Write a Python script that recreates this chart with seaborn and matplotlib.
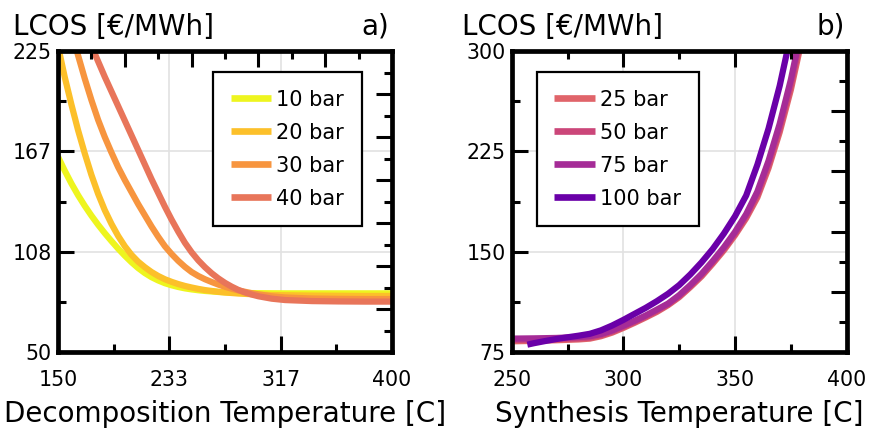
import numpy as np
import pandas as pd
import matplotlib
matplotlib.use("Agg")
import matplotlib.pyplot as plt
import seaborn as sns

# ---------------- data: panel a (decomposition) ----------------
decomp_T = [150, 155, 160, 165, 170, 175, 180, 185, 190, 195, 200, 205, 210,
            215, 220, 225, 230, 235, 240, 245, 250, 255, 260, 265, 270, 275,
            280, 285, 290, 295, 300, 310, 320, 340, 360, 380, 400]
lcos_10bar = [163.5, 155.5, 148.0, 141.2, 135.0, 129.3, 124.0, 119.1, 114.5,
              110.1, 106.0, 102.2, 98.8, 95.9, 93.5, 91.6, 90.0, 88.8, 87.8,
              87.0, 86.4, 85.9, 85.5, 85.2, 84.9, 84.7, 84.5, 84.4, 84.3, 84.25,
              84.2, 84.15, 84.1, 84.1, 84.1, 84.1, 84.1]
lcos_20bar = [228.0, 210.0, 194.0, 179.0, 165.5, 153.0, 142.0, 132.5, 124.5,
              117.5, 111.5, 106.5, 102.5, 99.3, 96.5, 94.2, 92.3, 90.8, 89.5,
              88.4, 87.5, 86.7, 86.0, 85.5, 85.0, 84.6, 84.3, 84.0, 83.8, 83.6,
              83.4, 83.1, 83.0, 82.8, 82.7, 82.6, 82.6]
lcos_30bar = [268.0, 252.0, 237.0, 222.5, 209.0, 196.5, 185.0, 175.0, 166.0,
              157.5, 150.0, 143.0, 136.0, 129.5, 123.0, 117.0, 111.5, 107.0,
              103.0, 99.5, 96.5, 94.2, 92.3, 90.7, 89.2, 87.9, 86.8, 85.8, 85.0,
              84.2, 83.5, 82.4, 81.7, 81.1, 80.9, 80.8, 80.8]
lcos_40bar = [285.0, 270.0, 258.0, 247.0, 237.0, 228.0, 219.0, 210.0, 201.5,
              193.0, 184.5, 176.0, 167.5, 159.0, 150.5, 142.5, 134.5, 127.0,
              120.0, 113.5, 108.0, 103.3, 99.3, 95.8, 92.8, 90.2, 88.0, 86.1,
              84.6, 83.4, 82.4, 81.0, 80.2, 79.6, 79.4, 79.3, 79.3]
labels_a = ["10 bar", "20 bar", "30 bar", "40 bar"]
colors_a = ["#eef51f", "#fcc02a", "#f7953f", "#e8755a"]

# ---------------- data: panel b (synthesis) ----------------
synth_T = [250, 260, 270, 280, 285, 290, 295, 300, 305, 310, 315, 320, 325,
           330, 335, 340, 345, 350, 355, 360, 365, 370, 375, 380]
lcos_25bar = [83.0, 83.3, 83.8, 84.4, 85.0, 86.8, 89.5, 93.0, 96.8, 100.8,
              105.0, 110.0, 116.0, 123.5, 131.5, 141.0, 151.0, 162.3, 175.0,
              190.5, 212.5, 239.3, 271.0, 309.0]
lcos_50bar = [84.0, 84.2, 84.6, 85.2, 85.8, 87.6, 90.3, 93.8, 97.5, 101.5,
              105.8, 110.6, 116.7, 124.3, 132.4, 142.0, 152.1, 163.5, 176.5,
              192.6, 215.1, 242.3, 274.7, 313.5]
lcos_75bar = [85.0, 85.2, 85.5, 86.2, 86.8, 88.4, 91.1, 94.6, 98.3, 102.3,
              106.7, 111.2, 117.5, 125.1, 133.4, 143.0, 153.3, 164.8, 178.1,
              194.9, 217.9, 245.6, 278.6, 318.0]
synth_T_100 = [257, 260, 265, 270, 275, 280, 285, 290, 295, 300, 305, 310,
               315, 320, 325, 330, 335, 340, 345, 350, 355, 360, 365, 370,
               373, 375]
lcos_100bar = [80.5, 81.6, 83.2, 84.7, 86.0, 87.2, 88.6, 91.2, 94.8, 99.0,
               103.5, 108.0, 113.0, 118.5, 125.0, 133.0, 142.0, 152.0, 163.5,
               176.5, 192.0, 215.0, 242.0, 274.0, 297.0, 313.0]
labels_b = ["25 bar", "50 bar", "75 bar", "100 bar"]
colors_b = ["#e0646a", "#cb4679", "#a52c97", "#6a00a8"]

# ---------------- tidy frames ----------------
df_a = pd.concat([
    pd.DataFrame({"T": decomp_T, "LCOS": v, "p": lab})
    for v, lab in zip([lcos_10bar, lcos_20bar, lcos_30bar, lcos_40bar], labels_a)
])
df_b = pd.concat([
    pd.DataFrame({"T": t, "LCOS": v, "p": lab})
    for t, v, lab in zip([synth_T, synth_T, synth_T, synth_T_100],
                         [lcos_25bar, lcos_50bar, lcos_75bar, lcos_100bar], labels_b)
])

sns.set_style("white")
plt.rcParams["font.family"] = ["DejaVu Sans"]
plt.rcParams["text.color"] = "black"
plt.rcParams["axes.labelcolor"] = "black"
plt.rcParams["xtick.color"] = "black"
plt.rcParams["ytick.color"] = "black"

W, H = 869, 430
fig = plt.figure(figsize=(W / 100, H / 100), dpi=100)


def rect(x0, x1, y0, y1):
    return [x0 / W, 1 - y1 / H, (x1 - x0) / W, (y1 - y0) / H]


axA = fig.add_axes(rect(58, 392, 51, 352))
axB = fig.add_axes(rect(511.7, 846.7, 51, 352))

SPINE = 3.4
TW = 2.2
MAJ = 11.5
MIN = 6.0


def tick_lengths(a):
    a.tick_params(which="major", length=MAJ)
    a.tick_params(which="minor", length=MIN)


def style(ax, xlim, ylim, xmaj, xmaj_lab, xmin, ymaj, ymaj_lab, ymin,
          top_maj, top_min, right_maj, right_min, xlabel):
    ax.set_xlim(*xlim)
    ax.set_ylim(*ylim)
    ax.set_xticks(xmaj)
    ax.set_xticklabels(xmaj_lab)
    ax.set_xticks(xmin, minor=True)
    ax.set_yticks(ymaj)
    ax.set_yticklabels(ymaj_lab)
    ax.set_yticks(ymin, minor=True)
    ax.grid(True, which="major", color="#e2e2e2", linewidth=1.2)
    ax.set_axisbelow(True)
    ax.tick_params(which="both", direction="in", width=TW, color="black",
                   labelcolor="black", top=False, right=False,
                   bottom=True, left=True, labelsize=14.8)
    tick_lengths(ax)
    ax.tick_params(axis="x", which="both", pad=13)
    ax.tick_params(axis="y", which="both", pad=4.5)
    for s in ax.spines.values():
        s.set_visible(True)
        s.set_linewidth(SPINE)
        s.set_color("black")
    ax.set_xlabel(xlabel, fontsize=20, labelpad=7.5, color="black")
    ax.set_ylabel("")

    # top ticks (own locations, no labels)
    tx = ax.twiny()
    tx.set_xlim(*xlim)
    tx.set_xticks(top_maj)
    tx.set_xticks(top_min, minor=True)
    tx.tick_params(which="both", direction="in", width=TW, color="black",
                   top=True, bottom=False, labeltop=False, labelbottom=False)
    tick_lengths(tx)
    tx.grid(False)
    for s in tx.spines.values():
        s.set_visible(False)

    # right ticks (own locations, no labels)
    ty = ax.twinx()
    ty.set_ylim(*ylim)
    ty.set_yticks(right_maj)
    ty.set_yticks(right_min, minor=True)
    ty.tick_params(which="both", direction="in", width=TW, color="black",
                   right=True, left=False, labelright=False, labelleft=False)
    tick_lengths(ty)
    ty.grid(False)
    for s in ty.spines.values():
        s.set_visible(False)


# ---------------- panel a ----------------
sns.lineplot(data=df_a, x="T", y="LCOS", hue="p", palette=colors_a,
             linewidth=4.5, estimator=None, sort=False, ax=axA)
# ---------------- panel b ----------------
sns.lineplot(data=df_b, x="T", y="LCOS", hue="p", palette=colors_b,
             linewidth=4.5, estimator=None, sort=False, ax=axB)

for line in axA.get_lines() + axB.get_lines():
    line.set_solid_capstyle("butt")
    line.set_solid_joinstyle("round")


def make_legend(ax, loc, anchor):
    handles, labels = ax.get_legend_handles_labels()
    leg = ax.legend(handles, labels, loc=loc, bbox_to_anchor=anchor,
                    borderaxespad=0, fontsize=15, handlelength=1.95,
                    handletextpad=0.25, labelspacing=0.62, borderpad=0.85,
                    fancybox=False, framealpha=1, edgecolor="black")
    leg.get_frame().set_linewidth(1.6)
    for h in leg.get_lines():
        h.set_linewidth(4.8)
        h.set_solid_capstyle("butt")
    for t in leg.get_texts():
        t.set_color("black")
    return leg


make_legend(axA, "upper right", (0.910, 0.930))
make_legend(axB, "upper left", (0.0746, 0.930))

style(axA, (150, 400), (50, 225),
      [150, 233.33, 316.67, 400], ["150", "233", "317", "400"],
      [191.67, 275, 358.33],
      [50, 108.33, 166.67, 225], ["50", "108", "167", "225"],
      [79.17, 137.5, 195.83],
      [200, 250, 300, 350], [175, 225, 275, 325, 375],
      [75, 100, 125, 150, 175, 200], [62.5, 87.5, 112.5, 137.5, 162.5, 187.5, 212.5],
      "Decomposition Temperature [C]")

style(axB, (250, 400), (75, 300),
      [250, 300, 350, 400], ["250", "300", "350", "400"],
      [275, 325, 375],
      [75, 150, 225, 300], ["75", "150", "225", "300"],
      [112.5, 187.5, 262.5],
      [300, 350], [275, 325, 375],
      [120, 165, 210, 255], [97.5, 142.5, 187.5, 232.5, 277.5],
      "Synthesis Temperature [C]")

# header texts
fig.text(13 / W, 1 - 35 / H, "LCOS [€/MWh]", fontsize=20, ha="left", va="baseline")
fig.text(389 / W, 1 - 35 / H, "a)", fontsize=20, ha="right", va="baseline")
fig.text(462 / W, 1 - 35 / H, "LCOS [€/MWh]", fontsize=20, ha="left", va="baseline")
fig.text(845 / W, 1 - 35 / H, "b)", fontsize=20, ha="right", va="baseline")

fig.savefig("out.png", dpi=100)
